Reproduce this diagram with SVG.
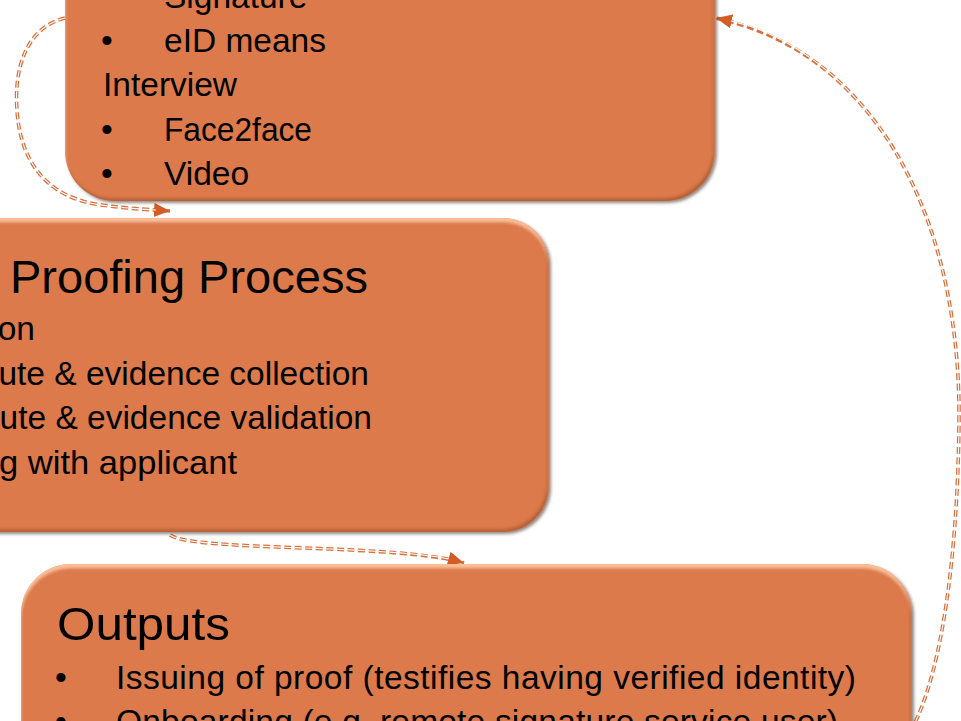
<svg xmlns="http://www.w3.org/2000/svg" width="961" height="721" viewBox="0 0 961 721">
  <defs>
    <style>
      .box { fill: #DD7A4C; filter: url(#bevel); }
      .txt { font-family: "Liberation Sans", Arial, sans-serif; font-size: 33.5px; fill: #000; }
      .ttl { font-family: "Liberation Sans", Arial, sans-serif; font-size: 47px; fill: #000; }
      .wire { fill: none; stroke: #D9703C; stroke-width: 3.6; stroke-dasharray: 7 3.5; }
      .wire-core { fill: none; stroke: #fff; stroke-width: 1.1; stroke-dasharray: 7 3.5; }
    </style>
    <!-- soft drop shadow plus light top rim and darker lower rim -->
    <filter id="bevel" x="-5%" y="-5%" width="110%" height="110%">
      <feGaussianBlur in="SourceAlpha" stdDeviation="1.6" result="blur"/>
      <feOffset in="blur" dx="1.5" dy="2" result="shOff"/>
      <feFlood flood-color="#3a2a20" flood-opacity="0.55"/>
      <feComposite in2="shOff" operator="in" result="shadow"/>
      <feOffset in="blur" dx="0" dy="4" result="down"/>
      <feComposite in="SourceAlpha" in2="down" operator="out" result="topRim"/>
      <feFlood flood-color="#FFC8A2" flood-opacity="0.85"/>
      <feComposite in2="topRim" operator="in" result="hl"/>
      <feOffset in="blur" dx="-2" dy="-3" result="up"/>
      <feComposite in="SourceAlpha" in2="up" operator="out" result="lowRim"/>
      <feFlood flood-color="#8E4322" flood-opacity="0.55"/>
      <feComposite in2="lowRim" operator="in" result="dk"/>
      <feMerge>
        <feMergeNode in="shadow"/>
        <feMergeNode in="SourceGraphic"/>
        <feMergeNode in="hl"/>
        <feMergeNode in="dk"/>
      </feMerge>
    </filter>
    <marker id="head" markerUnits="userSpaceOnUse" markerWidth="18" markerHeight="16" refX="16" refY="7" orient="auto">
      <path d="M0,0 L16,7 L0,14 z" fill="#D35D25"/>
    </marker>
  </defs>

  <!-- connectors -->
  <g id="connectors">
    <path class="wire" d="M65 18 C25 28, 14 70, 17 110 C20 160, 45 195, 95 204 C120 208, 140 209, 170 211" marker-end="url(#head)"/>
    <path class="wire-core" d="M65 18 C25 28, 14 70, 17 110 C20 160, 45 195, 95 204 C120 208, 140 209, 156 210"/>
    <path class="wire" d="M170 535 C185 545, 260 546, 330 549 C400 552, 440 556, 464 563" marker-end="url(#head)"/>
    <path class="wire-core" d="M170 535 C185 545, 260 546, 330 549 C400 552, 430 555, 449 559"/>
    <path class="wire" d="M905 740 C940 690, 958 560, 959 420 C960 300, 930 190, 870 115 C830 65, 780 32, 716 18" marker-end="url(#head)"/>
    <path class="wire-core" d="M905 740 C940 690, 958 560, 959 420 C960 300, 930 190, 870 115 C830 65, 780 32, 731 21"/>
  </g>

  <!-- evidence / interview box -->
  <g id="methods">
    <rect class="box" x="65" y="-80" width="650" height="281" rx="50" ry="50"/>
    <text class="txt" x="164" y="7.5">Signature</text>
    <text class="txt" x="101" y="52">•</text>
    <text class="txt" x="164" y="52">eID means</text>
    <text class="txt" x="103" y="96">Interview</text>
    <text class="txt" x="101" y="141">•</text>
    <text class="txt" x="164" y="141" textLength="148" lengthAdjust="spacingAndGlyphs">Face2face</text>
    <text class="txt" x="101" y="185">•</text>
    <text class="txt" x="164" y="185">Video</text>
  </g>

  <!-- proofing process box -->
  <g id="process">
    <rect class="box" x="-60" y="218" width="609" height="314" rx="46" ry="46"/>
    <text class="ttl" x="10" y="293">Proofing Process</text>
    <text class="txt" x="35" y="340" text-anchor="end">on</text>
    <text class="txt" x="369" y="385" text-anchor="end">ute &amp; evidence collection</text>
    <text class="txt" x="372" y="429" text-anchor="end">ute &amp; evidence validation</text>
    <text class="txt" x="-1" y="474" textLength="238" lengthAdjust="spacingAndGlyphs">g with applicant</text>
  </g>

  <!-- outputs box -->
  <g id="outputs">
    <rect class="box" x="21" y="564" width="891" height="220" rx="50" ry="50"/>
    <text class="ttl" x="57" y="640" textLength="173" lengthAdjust="spacingAndGlyphs">Outputs</text>
    <text class="txt" x="55" y="689">•</text>
    <text class="txt" x="116" y="689" textLength="740" lengthAdjust="spacing">Issuing of proof (testifies having verified identity)</text>
    <text class="txt" x="55" y="733">•</text>
    <text class="txt" x="116" y="733" textLength="722" lengthAdjust="spacing">Onboarding (e.g. remote signature service user)</text>
  </g>
</svg>
